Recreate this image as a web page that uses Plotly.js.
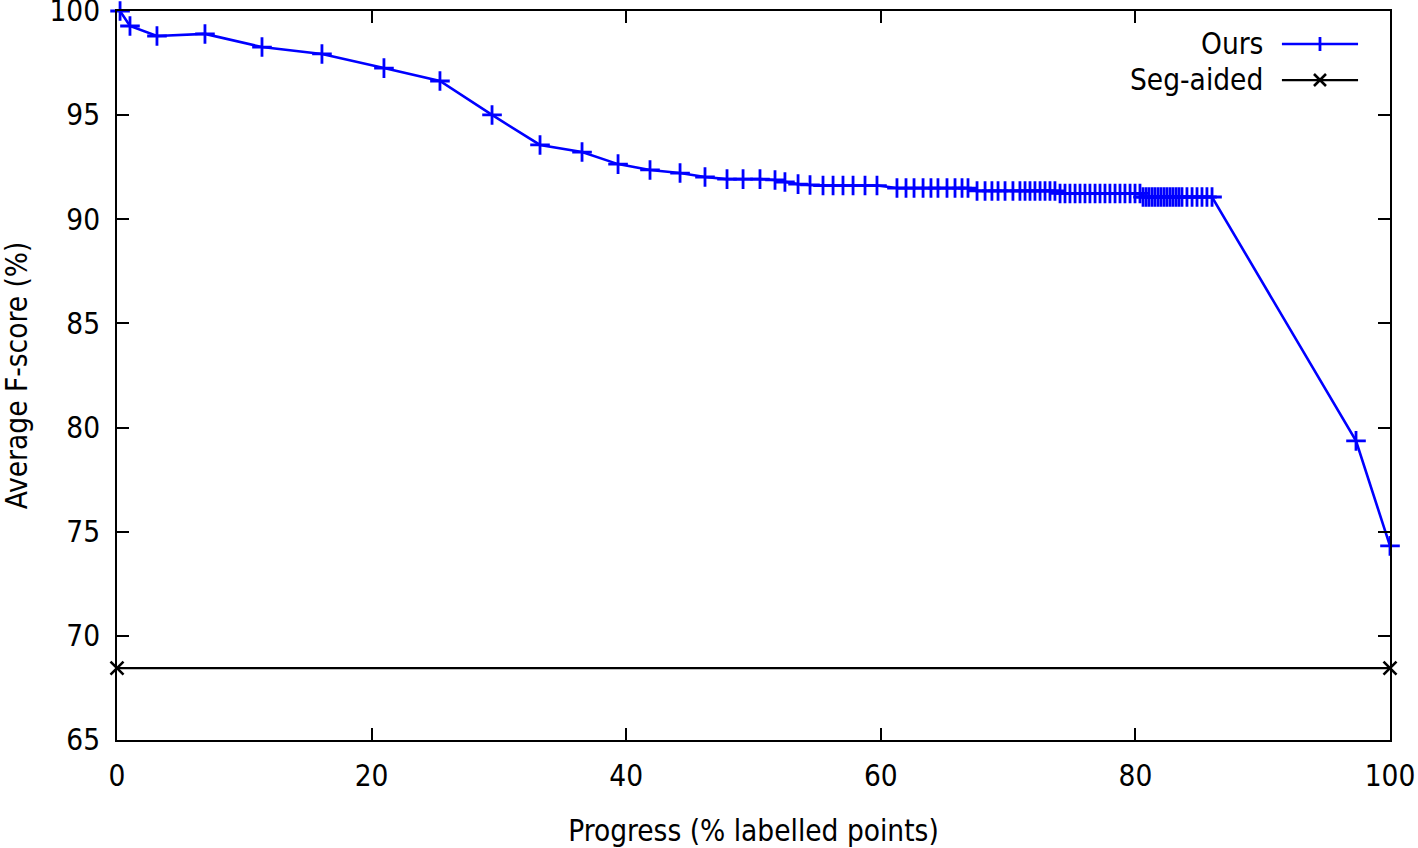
<!DOCTYPE html>
<html>
<head>
<meta charset="utf-8">
<script src="https://cdn.plot.ly/plotly-3.0.1.min.js"></script>
<style>
  html, body { margin: 0; padding: 0; background: #fff; }
  #chart { width: 1418px; height: 848px; }
</style>
</head>
<body>
<div id="chart"></div>
<script>
// ---- Data ----
const oursName = "Ours";
const segName = "Seg-aided";

const oursX = [
  0.24, 1.02, 3.14, 6.91, 11.39, 16.10, 20.97, 25.37, 29.46, 33.23,
  36.53, 39.36, 41.87, 44.23, 46.19, 47.92, 49.18, 50.51, 51.69, 52.47,
  53.50, 54.44,
  55.46, 56.25, 57.03, 57.82, 58.76, 59.70,
  61.27, 61.98, 62.61, 63.32, 63.94, 64.49, 65.20, 65.83, 66.38, 66.85,
  67.56, 68.19, 68.73, 69.21, 69.76, 70.38, 70.93, 71.33, 71.72, 72.11, 72.51, 72.90, 73.29, 73.68,
  74.08, 74.47, 74.86, 75.26, 75.65, 76.04, 76.43, 76.83, 77.22, 77.61, 78.00, 78.40, 78.79, 79.18, 79.58, 79.97, 80.36,
  80.60, 80.84, 81.07, 81.31, 81.54, 81.78, 82.01, 82.25, 82.48, 82.72, 82.95, 83.19, 83.42, 83.66, 84.05, 84.45, 84.84, 85.23, 85.62, 86.02,
  97.33, 100.0
];
const oursY = [
  100.0, 99.28, 98.80, 98.90, 98.27, 97.94, 97.26, 96.64, 95.01, 93.57,
  93.23, 92.65, 92.37, 92.22, 92.03, 91.93, 91.93, 91.93, 91.89, 91.79,
  91.69, 91.65,
  91.62, 91.62, 91.62, 91.62, 91.62, 91.62,
  91.50, 91.50, 91.50, 91.50, 91.50, 91.50, 91.50, 91.50, 91.50, 91.50,
  91.36, 91.36, 91.36, 91.36, 91.36, 91.36, 91.36, 91.36, 91.36, 91.36, 91.36, 91.36, 91.36, 91.36,
  91.24, 91.24, 91.24, 91.24, 91.24, 91.24, 91.24, 91.24, 91.24, 91.24, 91.24, 91.24, 91.24, 91.24, 91.24, 91.24, 91.24,
  91.07, 91.07, 91.07, 91.07, 91.07, 91.07, 91.07, 91.07, 91.07, 91.07, 91.07, 91.07, 91.07, 91.07, 91.07, 91.07, 91.07, 91.07, 91.07, 91.07,
  79.36, 74.32
];

const segX = [0, 100];
const segY = [68.45, 68.45];

const xTicks = [0, 20, 40, 60, 80, 100];
const yTicks = [65, 70, 75, 80, 85, 90, 95, 100];

// ---- Styling ----
const FONT = "DejaVu Sans Condensed, DejaVu Sans, sans-serif";
const FS = 29.5;

const traces = [
  {
    x: oursX, y: oursY, name: oursName, type: "scatter", mode: "lines+markers",
    line: { color: "#0000ff", width: 2.6 },
    marker: { symbol: "cross-thin-open", size: 14, color: "#0000ff", line: { color: "#0000ff", width: 2.8 } },
    cliponaxis: false, showlegend: false
  },
  {
    x: segX, y: segY, name: segName, type: "scatter", mode: "lines+markers",
    line: { color: "#000000", width: 2.2 },
    marker: { symbol: "x-thin-open", size: 13, color: "#000", line: { color: "#000", width: 2.6 } },
    cliponaxis: false, showlegend: false
  }
];

// Gnuplot-style legend (text left of sample) built in paper coordinates
const legItems = [
  { name: oursName, color: "#0000ff", sym: "plus", py: 0.9547 },
  { name: segName, color: "#000000", sym: "x", py: 0.9053 }
];
const annotations = [];
const shapes = [];
const W = 1273, H = 729;
legItems.forEach(it => {
  annotations.push({
    xref: "paper", yref: "paper", x: 0.9015, y: it.py, xanchor: "right", yanchor: "middle",
    text: it.name, showarrow: false, font: { family: FONT, size: FS, color: "#000" }
  });
  shapes.push({ type: "line", xref: "paper", yref: "paper", x0: 0.9151, x1: 0.9749, y0: it.py, y1: it.py,
    line: { color: it.color, width: it.sym === "plus" ? 2.6 : 2.2 } });
  const cx = 0.9450, hx = 7 / W, hy = 7 / H;
  if (it.sym === "plus") {
    shapes.push({ type: "line", xref: "paper", yref: "paper", x0: cx, x1: cx, y0: it.py - hy, y1: it.py + hy,
      line: { color: it.color, width: 2.8 } });
  } else {
    const d = 6;
    shapes.push({ type: "line", xref: "paper", yref: "paper", x0: cx - d / W, x1: cx + d / W, y0: it.py - d / H, y1: it.py + d / H,
      line: { color: it.color, width: 2.6 } });
    shapes.push({ type: "line", xref: "paper", yref: "paper", x0: cx - d / W, x1: cx + d / W, y0: it.py + d / H, y1: it.py - d / H,
      line: { color: it.color, width: 2.6 } });
  }
});

const axisCommon = {
  showgrid: false, zeroline: false, showline: true, linecolor: "#000", linewidth: 2,
  mirror: "ticks", ticks: "inside", ticklen: 12, tickwidth: 2, tickcolor: "#000",
  tickfont: { family: FONT, size: FS, color: "#000" }, ticklabeloverflow: "allow"
};

const layout = {
  width: 1418, height: 848,
  margin: { l: 117, r: 28, t: 11, b: 108 },
  paper_bgcolor: "#fff", plot_bgcolor: "#fff",
  showlegend: false,
  xaxis: Object.assign({}, axisCommon, {
    range: [0, 100], tickmode: "array", tickvals: xTicks, ticktext: xTicks.map(String),
    ticklabelstandoff: 9,
    title: { text: "Progress (% labelled points)", font: { family: FONT, size: FS, color: "#000" }, standoff: 28 }
  }),
  yaxis: Object.assign({}, axisCommon, {
    range: [65, 100.001], tickmode: "array", tickvals: yTicks, ticktext: yTicks.map(String),
    ticklabelstandoff: 9,
    title: { text: "Average F-score (%)", font: { family: FONT, size: FS, color: "#000" }, standoff: 28 }
  }),
  annotations: annotations,
  shapes: shapes
};

Plotly.newPlot("chart", traces, layout, { displayModeBar: false, staticPlot: true });
</script>
</body>
</html>
